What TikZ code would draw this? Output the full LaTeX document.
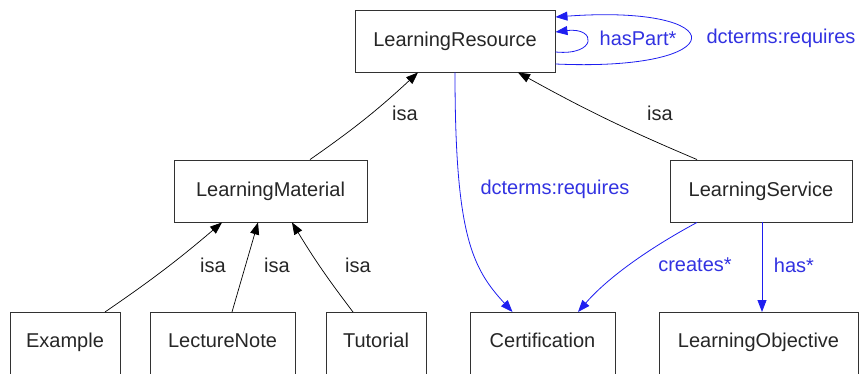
\documentclass[tikz,border=0pt]{standalone}
\usepackage{fontspec}
\setmainfont{Liberation Sans}
\usetikzlibrary{arrows.meta}
\definecolor{edgeblue}{RGB}{30,30,240}
\definecolor{textblue}{RGB}{50,50,225}
\definecolor{boxgray}{RGB}{50,50,50}
\begin{document}
\begin{tikzpicture}[x=1pt,y=-1pt,
  every node/.style={font=\fontsize{20}{24}\selectfont},
  box/.style={draw=boxgray,line width=0.9pt,inner xsep=0pt,inner ysep=0pt,minimum height=62pt,text=black!85},
  bbox/.style={draw=boxgray,line width=0.9pt,inner xsep=0pt,inner ysep=20pt,anchor=north,text height=15pt,text depth=60pt,text=black!85},
  isaedge/.style={draw=black,line width=0.7pt,-{Triangle[length=12pt,width=9pt]}},
  blueedge/.style={draw=edgeblue,line width=0.8pt,-{Triangle[length=12pt,width=9pt]}},
  lbl/.style={text=black!85,inner sep=0pt},
  blbl/.style={text=textblue,inner sep=0pt}]
\useasboundingbox (0,0) rectangle (859,374);
\clip (0,0) rectangle (859,374);
\node[box,minimum width=200pt] (LR) at (455,41) {LearningResource};
\node[box,minimum width=193pt] (LM) at (270.5,191) {LearningMaterial};
\node[box,minimum width=182pt] (LS) at (761,191) {LearningService};
\node[bbox,minimum width=110pt] (EX) at (65,312) {Example};
\node[bbox,minimum width=145pt] (LN) at (222.5,312) {LectureNote};
\node[bbox,minimum width=100pt] (TU) at (376,312) {Tutorial};
\node[bbox,minimum width=145pt] (CE) at (542.5,312) {Certification};
\node[bbox,minimum width=199pt] (LO) at (758.5,312) {LearningObjective};
% isa edges
\draw[isaedge] ([xshift=39.5pt]LM.north) to[bend right=4] ([xshift=-37pt]LR.south);
\draw[isaedge] ([xshift=-64pt]LS.north) to[bend left=3] ([xshift=63pt]LR.south);
\draw[isaedge] ([xshift=40pt]EX.north) to[bend right=3] ([xshift=-48.5pt]LM.south);
\draw[isaedge] ([xshift=9.5pt]LN.north) -- ([xshift=-12.5pt]LM.south);
\draw[isaedge] ([xshift=-23pt]TU.north) to[bend left=3] ([xshift=21.5pt]LM.south);
% blue edges
\draw[blueedge] (LR.south) .. controls (455,235) and (472,268) .. ([xshift=-30pt]CE.north);
\draw[blueedge] ([xshift=-64pt]LS.south) .. controls (655,245) and (610,275) .. ([xshift=35.5pt]CE.north);
\draw[blueedge] ([xshift=1pt]LS.south) -- ([xshift=1pt]LS.south |- LO.north);
\draw[blueedge] ([yshift=-11pt]LR.east) .. controls (597,56) and (597,27) .. ([yshift=9pt]LR.east);
\draw[blueedge] ([yshift=-23pt]LR.east) .. controls (735,72) and (735,4) .. ([yshift=24pt]LR.east);
% labels
\node[lbl] (l1) at (405,113) {isa};
\node[lbl] (l2) at (660,113) {isa};
\node[lbl] (l3) at (213,265) {isa};
\node[lbl] (l4) at (277,265) {isa};
\node[lbl] (l5) at (358,265) {isa};
\node[blbl] (l6) at (555,189) {dcterms:requires};
\node[blbl] (l7) at (695,265) {creates*};
\node[blbl] (l8) at (794,265) {has*};
\node[blbl] (l9) at (638,38) {hasPart*};
\node[blbl] (l10) at (781,38) {dcterms:requires};
\end{tikzpicture}
\end{document}
